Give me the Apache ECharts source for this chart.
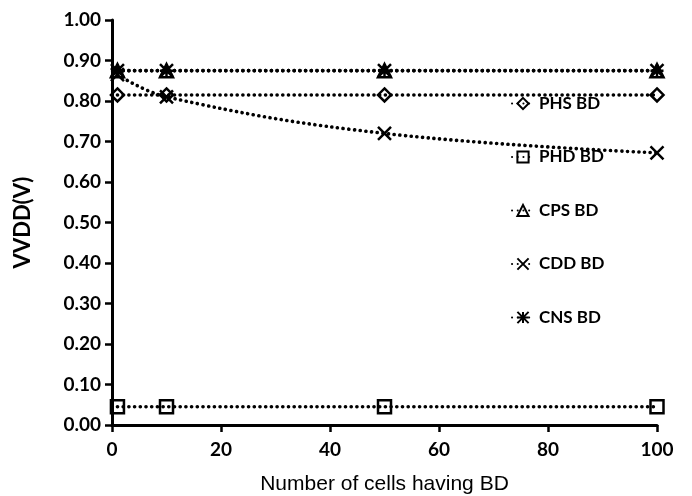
<!DOCTYPE html>
<html>
<head>
<meta charset="utf-8">
<script src="https://cdn.jsdelivr.net/npm/echarts@6/dist/echarts.min.js"></script>
<style>html,body{margin:0;padding:0;background:#fff}#chart{width:692px;height:496px}</style>
</head>
<body>
<div id="chart"></div>
<script>
// Number of cells with breakdown (x) and the resulting VVDD for each case
const cells = [1, 10, 50, 100];
const phsBD = [0.815, 0.815, 0.815, 0.815];
const phdBD = [0.045, 0.045, 0.045, 0.045];
const cpsBD = [0.875, 0.875, 0.875, 0.875];
const cddBD = [0.865, 0.81, 0.72, 0.672];
const cnsBD = [0.875, 0.875, 0.875, 0.875];
const seriesNames = ['PHS BD', 'PHD BD', 'CPS BD', 'CDD BD', 'CNS BD'];
const xTicks = [0, 20, 40, 60, 80, 100];

const xMark = 'path://M0,0L10,10M10,0L0,10';
const starMark = 'path://M5,0L5,10M0,0L10,10M10,0L0,10M0,5L10,5';

function pairs(ys) { return cells.map((x, i) => [x, ys[i]]); }

function makeSeries(name, ys, symbol, size, smooth) {
  return {
    name: name,
    type: 'line',
    data: pairs(ys),
    smooth: smooth ? 0.4 : false,
    symbol: symbol,
    symbolSize: size,
    showSymbol: true,
    lineStyle: { color: '#000', width: 3.6, type: [0.1, 5.6], cap: 'round' },
    itemStyle: { color: 'transparent', borderColor: '#000', borderWidth: 2.5 },
    emphasis: { disabled: true },
    z: 2
  };
}

const chart = echarts.init(document.getElementById('chart'), null, { renderer: 'canvas' });
chart.setOption({
  animation: false,
  backgroundColor: '#fff',
  grid: { left: 112, right: 35, top: 20, bottom: 71, containLabel: false, outerBoundsMode: 'none' },
  legend: {
    orient: 'vertical',
    left: 506,
    top: 90,
    itemGap: 36.5,
    itemWidth: 22,
    itemHeight: 14,
    data: seriesNames,
    textStyle: { fontFamily: 'Lato', fontWeight: 'bold', fontSize: 17, color: '#000' }
  },
  xAxis: {
    type: 'value',
    min: 0, max: 100, interval: 20,
    name: 'Number of cells having BD',
    nameLocation: 'middle',
    nameGap: 49,
    nameTextStyle: { fontFamily: 'Liberation Sans', fontSize: 21, color: '#000' },
    axisLine: { lineStyle: { color: '#000', width: 3 } },
    axisTick: { show: true, length: 7, lineStyle: { color: '#000', width: 2.5 } },
    axisLabel: { fontFamily: 'Lato', fontWeight: 'bold', fontSize: 19, color: '#000', margin: 15,
      formatter: v => xTicks.includes(v) ? String(v) : '' },
    splitLine: { show: false }
  },
  yAxis: {
    type: 'value',
    min: 0, max: 1, interval: 0.1,
    name: 'VVDD(V)',
    nameLocation: 'middle',
    nameGap: 78,
    nameTextStyle: { fontFamily: 'Lato', fontWeight: 'bold', fontSize: 22, color: '#000' },
    axisLine: { show: true, lineStyle: { color: '#000', width: 3 } },
    axisTick: { show: true, length: 7, lineStyle: { color: '#000', width: 2.5 } },
    axisLabel: { fontFamily: 'Lato', fontWeight: 'bold', fontSize: 19, color: '#000', margin: 11,
      formatter: v => v.toFixed(2) },
    splitLine: { show: false }
  },
  series: [
    makeSeries('PHS BD', phsBD, 'diamond', 13),
    makeSeries('PHD BD', phdBD, 'rect', 13),
    makeSeries('CPS BD', cpsBD, 'triangle', 13),
    makeSeries('CDD BD', cddBD, xMark, 13, true),
    makeSeries('CNS BD', cnsBD, starMark, 13)
  ]
});
</script>
</body>
</html>
